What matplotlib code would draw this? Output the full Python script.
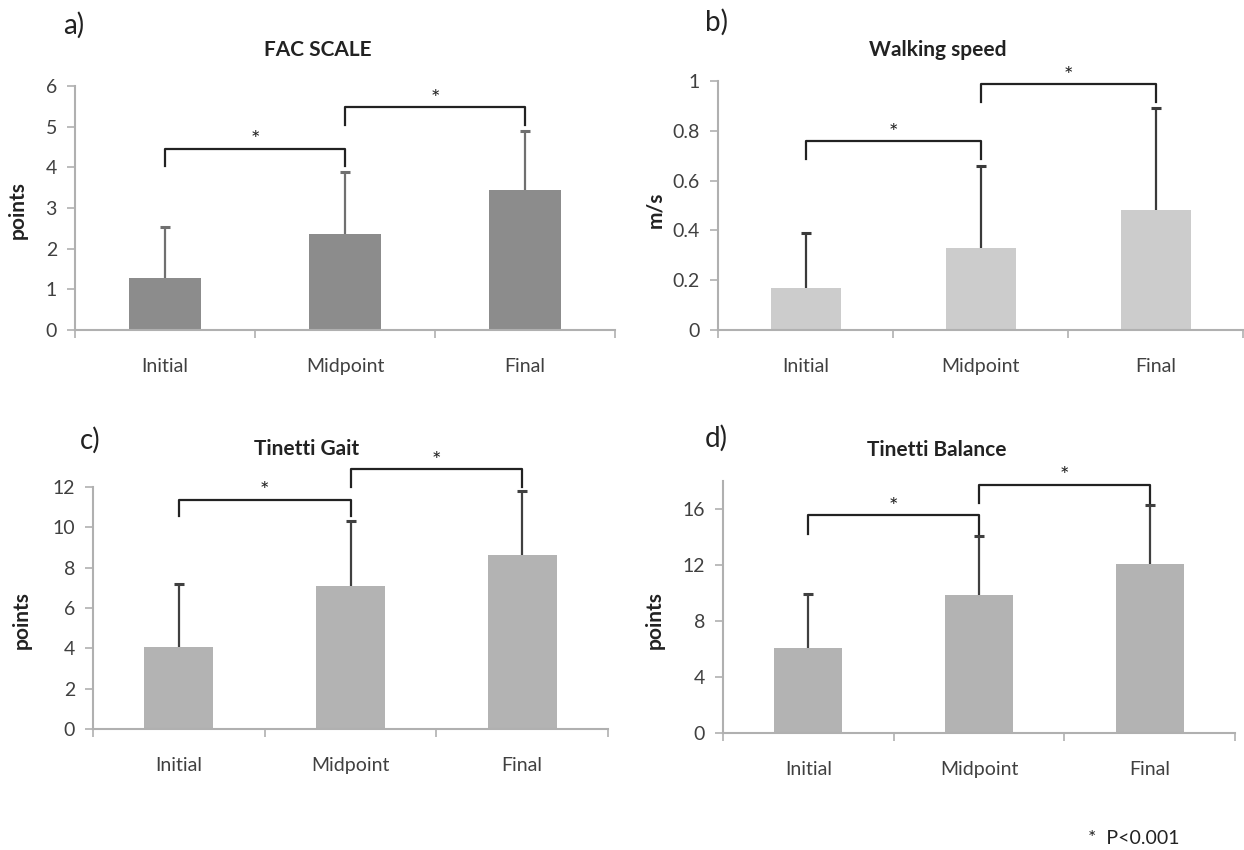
import matplotlib
matplotlib.use('Agg')
import matplotlib.pyplot as plt
import numpy as np

plt.rcParams['font.family'] = ['Lato', 'DejaVu Sans']

W, H = 1244, 850

categories = ['Initial', 'Midpoint', 'Final']

fac_mean = [1.29, 2.35, 3.44]
fac_sd = [1.24, 1.54, 1.46]
speed_mean = [0.17, 0.33, 0.48]
speed_sd = [0.22, 0.33, 0.41]
gait_mean = [4.07, 7.09, 8.64]
gait_sd = [3.13, 3.20, 3.15]
balance_mean = [6.05, 9.85, 12.09]
balance_sd = [3.90, 4.21, 4.21]

# significance brackets: (from, to, top y, drop y, star y)
fac_sig = [(0, 1, 4.46, 4.04, 4.66), (1, 2, 5.49, 5.05, 5.69)]
speed_sig = [(0, 1, 0.759, 0.687, 0.792), (1, 2, 0.988, 0.916, 1.022)]
gait_sig = [(0, 1, 11.38, 10.56, 11.78), (1, 2, 12.91, 11.98, 13.3)]
balance_sig = [(0, 1, 15.56, 14.25, 16.15), (1, 2, 17.74, 16.45, 18.35)]


def px_rect(left, right, top, bottom):
    return [left / W, 1 - bottom / H, (right - left) / W, (bottom - top) / H]


panels = [
    dict(rect=px_rect(75, 615, 86, 330), mean=fac_mean, sd=fac_sd, sig=fac_sig,
         ylim=(0, 6), yticks=[0, 1, 2, 3, 4, 5, 6],
         bar='#8c8c8c', err='#707070',
         letter=('a)', 63, 25), title=('FAC SCALE', 318, 50), ylabel=('points', 18, 210)),
    dict(rect=px_rect(718, 1243, 81, 330), mean=speed_mean, sd=speed_sd, sig=speed_sig,
         ylim=(0, 1), yticks=[0, 0.2, 0.4, 0.6, 0.8, 1],
         bar='#cccccc', err='#3a3a3a',
         letter=('b)', 705, 22), title=('Walking speed', 938, 50), ylabel=('m/s', 655, 210)),
    dict(rect=px_rect(93, 608, 487, 729), mean=gait_mean, sd=gait_sd, sig=gait_sig,
         ylim=(0, 12), yticks=[0, 2, 4, 6, 8, 10, 12],
         bar='#b3b3b3', err='#404040',
         letter=('c)', 80, 440), title=('Tinetti Gait', 307, 449), ylabel=('points', 22, 620)),
    dict(rect=px_rect(723, 1235, 481, 733), mean=balance_mean, sd=balance_sd, sig=balance_sig,
         ylim=(0, 18), yticks=[0, 4, 8, 12, 16],
         bar='#b3b3b3', err='#404040',
         letter=('d)', 705, 438), title=('Tinetti Balance', 937, 450), ylabel=('points', 655, 620)),
]

fig = plt.figure(figsize=(W / 100, H / 100), dpi=100)

x = np.arange(len(categories))
for p in panels:
    ax = fig.add_axes(p['rect'])
    ax.bar(x, p['mean'], width=0.4, color=p['bar'], zorder=2)
    eb = ax.errorbar(x, p['mean'], yerr=[np.zeros(3), p['sd']], fmt='none',
                     ecolor=p['err'], elinewidth=1.6, capsize=3.5, capthick=2.2, zorder=3)
    # only the upper cap, as in the source figure
    eb[1][0].set_visible(False)

    for i, j, top, drop, star in p['sig']:
        ax.plot([x[i], x[i], x[j], x[j]], [drop, top, top, drop],
                color='#222222', lw=1.6, clip_on=False, zorder=4)
        ax.text((x[i] + x[j]) / 2, star, '*', ha='center', va='center',
                fontsize=16, color='#222222', clip_on=False)

    ax.set_xlim(-0.5, 2.5)
    ax.set_ylim(*p['ylim'])
    ax.set_yticks(p['yticks'])
    ax.set_yticklabels(['{:g}'.format(v) for v in p['yticks']])
    ax.set_xticks([-0.5, 0.5, 1.5, 2.5])
    ax.set_xticklabels([])
    ax.set_xticks(x, minor=True)
    ax.set_xticklabels(categories, minor=True)
    ax.tick_params(axis='x', which='major', length=6, color='#b0b0b0', width=1.2)
    ax.tick_params(axis='x', which='minor', length=0, pad=20, labelsize=14, labelcolor='#404040')
    ax.tick_params(axis='y', length=6, color='#b0b0b0', width=1.2, labelsize=14,
                   labelcolor='#404040', pad=7)
    for s in ('top', 'right'):
        ax.spines[s].set_visible(False)
    for s in ('left', 'bottom'):
        ax.spines[s].set_color('#b0b0b0')
        ax.spines[s].set_linewidth(1.5)

    t, tx, ty = p['letter']
    fig.text(tx / W, 1 - ty / H, t, fontsize=20, ha='left', va='center', color='#222222')
    t, tx, ty = p['title']
    fig.text(tx / W, 1 - ty / H, t, fontsize=15, fontweight='bold', ha='center', va='center',
             color='#222222')
    t, tx, ty = p['ylabel']
    fig.text(tx / W, 1 - ty / H, t, fontsize=15, fontweight='bold', ha='center', va='center',
             rotation=90, color='#222222')

fig.text(1088 / W, 1 - 838 / H, '*  P<0.001', fontsize=14, ha='left', va='center', color='#222222')

fig.savefig('out.png', dpi=100)
